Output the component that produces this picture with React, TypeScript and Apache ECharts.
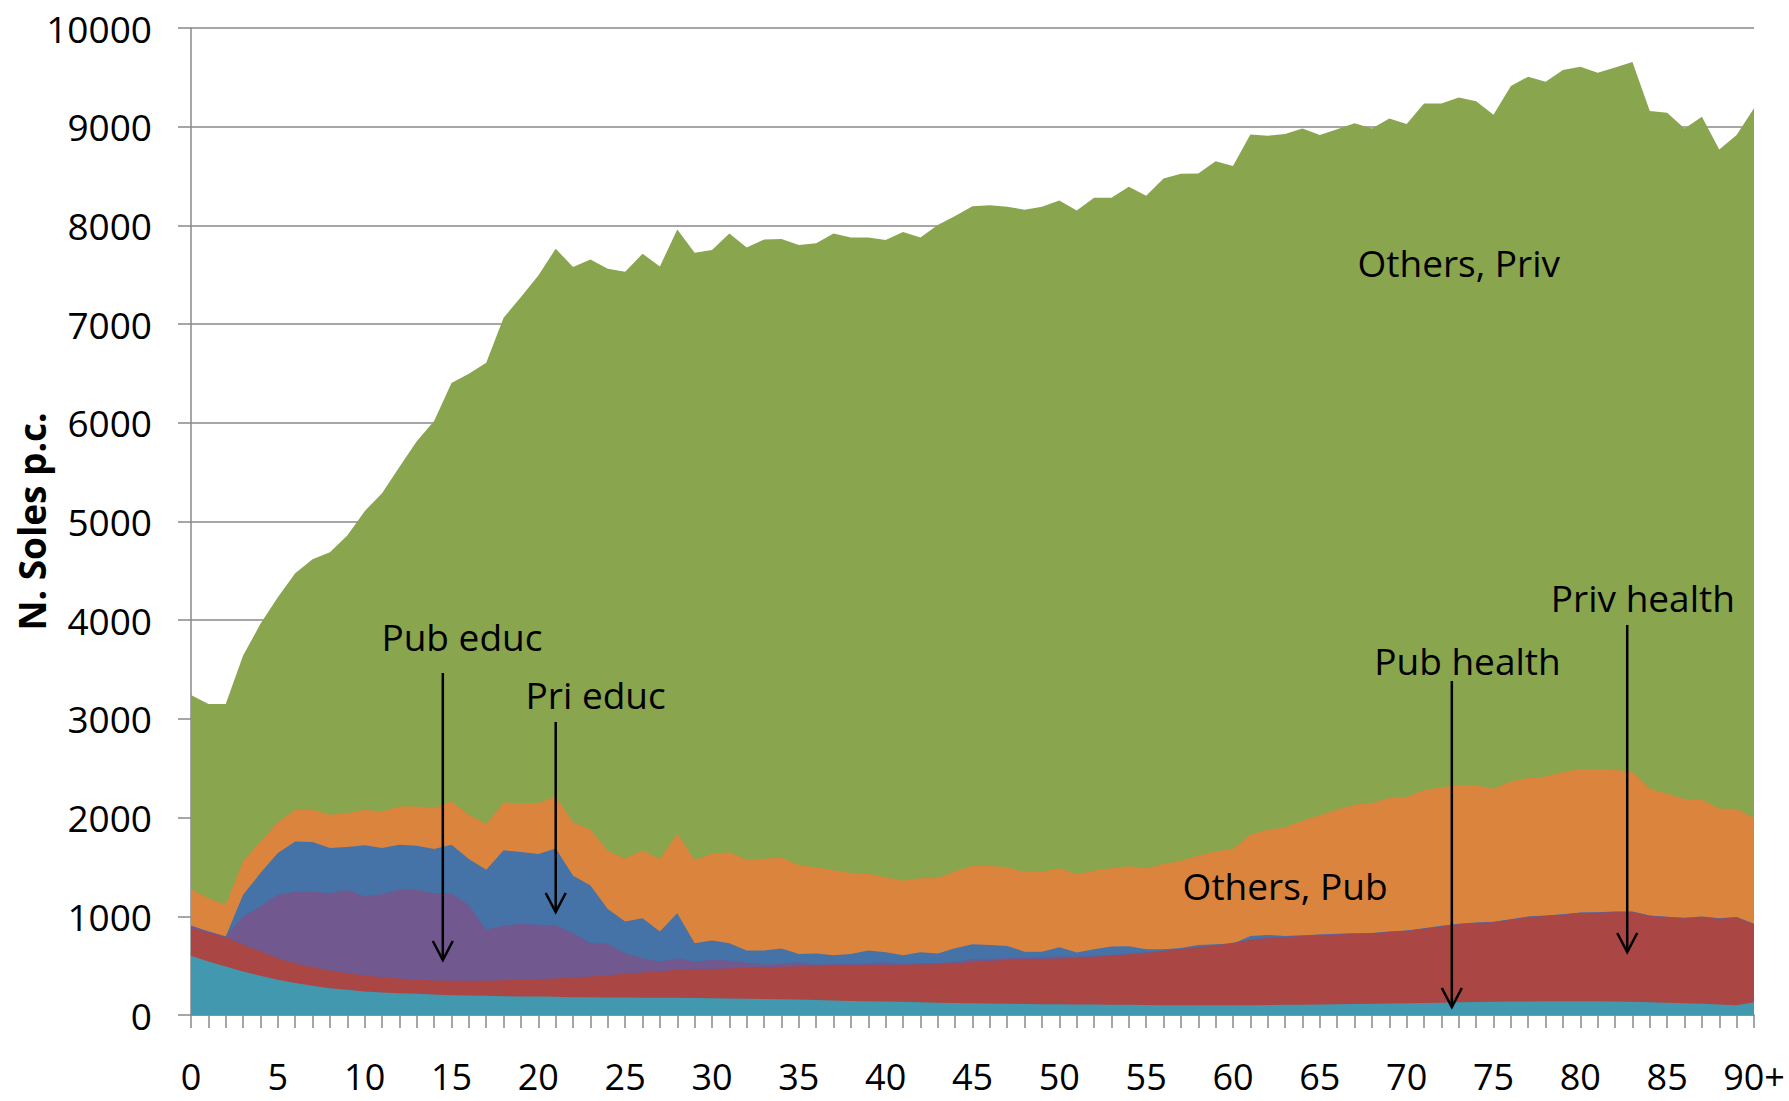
import React, { useEffect, useRef } from "react";
import * as echarts from "echarts";

// Age categories
const ages: string[] = [
  "0","1","2","3","4","5","6","7","8","9",
  "10","11","12","13","14","15","16","17","18","19",
  "20","21","22","23","24","25","26","27","28","29",
  "30","31","32","33","34","35","36","37","38","39",
  "40","41","42","43","44","45","46","47","48","49",
  "50","51","52","53","54","55","56","57","58","59",
  "60","61","62","63","64","65","66","67","68","69",
  "70","71","72","73","74","75","76","77","78","79",
  "80","81","82","83","84","85","86","87","88","89",
  "90+",
];

// Cumulative levels (top edge of each layer), N. Soles p.c.
const pubHealthTop: number[] = [
  600,542,492,441,397,356,323,296,272,255,
  238,228,221,215,208,201,198,194,191,188,
  187,184,181,180,178,177,176,175,174,172,
  170,167,165,162,160,156,152,148,143,140,
  136,133,128,125,122,118,116,114,112,110,
  109,107,106,104,103,102,100,99,98,98,
  99,100,101,103,105,107,110,112,115,117,
  120,122,125,128,132,135,137,138,139,139,
  140,139,137,133,129,124,119,113,106,100,
  130,
];

const privHealthTop: number[] = [
  880,829,786,711,644,576,525,485,451,424,
  400,383,370,358,350,346,346,348,352,356,
  362,370,380,390,404,417,431,444,457,464,
  467,471,478,484,488,491,494,498,501,502,
  504,508,511,515,521,535,548,558,565,568,
  572,578,588,600,612,625,645,665,685,703,
  726,760,777,787,797,807,814,821,824,838,
  848,872,895,916,929,936,963,990,1000,1014,
  1030,1034,1041,1041,1000,988,978,990,972,985,
  916,
];

const pubEducTop: number[] = [
  904,846,795,998,1099,1217,1251,1251,1234,1268,
  1200,1226,1268,1268,1234,1234,1109,863,907,921,
  914,907,829,728,721,626,576,542,576,541,
  558,551,531,510,517,534,510,517,514,524,
  534,516,524,526,537,568,570,575,581,588,
  590,590,598,608,620,634,652,672,692,710,
  732,765,782,792,802,812,819,826,829,843,
  853,877,900,921,934,941,968,995,1005,1019,
  1035,1039,1046,1046,1005,993,983,995,977,990,
  921,
];

const priEducTop: number[] = [
  904,846,795,1218,1438,1641,1759,1752,1692,1702,
  1719,1692,1726,1716,1682,1726,1580,1472,1668,1651,
  1631,1688,1411,1313,1073,948,981,846,1032,727,
  754,727,653,653,673,619,622,605,619,653,
  636,605,636,622,676,716,710,700,642,642,
  686,632,665,693,696,665,666,680,709,716,
  722,801,811,800,808,815,822,829,832,846,
  856,880,903,924,937,944,971,998,1008,1022,
  1038,1042,1049,1049,1008,996,986,998,980,993,
  924,
];

const othersPubTop: number[] = [
  1275,1184,1116,1556,1758,1951,2079,2079,2028,2045,
  2079,2062,2113,2113,2096,2164,2028,1934,2153,2147,
  2147,2214,1951,1877,1664,1583,1667,1580,1833,1573,
  1634,1648,1573,1584,1597,1516,1496,1466,1439,1432,
  1395,1361,1385,1388,1456,1513,1510,1496,1449,1449,
  1486,1425,1462,1487,1506,1486,1529,1563,1614,1658,
  1682,1827,1877,1901,1969,2023,2080,2131,2148,2199,
  2209,2276,2307,2327,2327,2293,2367,2401,2415,2462,
  2493,2493,2486,2459,2290,2243,2189,2182,2091,2087,
  1996,
];

const othersPrivTop: number[] = [
  3243,3152,3152,3642,3963,4233,4476,4618,4689,4858,
  5105,5287,5551,5814,6017,6402,6497,6608,7064,7274,
  7493,7764,7578,7655,7561,7530,7713,7584,7959,7722,
  7750,7919,7777,7858,7861,7801,7818,7919,7878,7878,
  7851,7932,7878,8003,8095,8193,8203,8189,8159,8189,
  8253,8152,8280,8280,8392,8301,8476,8524,8527,8650,
  8601,8922,8909,8926,8983,8916,8973,9034,8983,9084,
  9027,9236,9236,9297,9257,9122,9412,9507,9456,9574,
  9608,9547,9601,9655,9159,9142,8983,9101,8770,8916,
  9186,
];

// Layers drawn back to front (each filled down to zero)
const layerNames = ["Others, Priv", "Others, Pub", "Pri educ", "Pub educ", "Priv health", "Pub health"];
const layerData = [othersPrivTop, othersPubTop, priEducTop, pubEducTop, privHealthTop, pubHealthTop];
const layerColors = ["#89A54E", "#DB843D", "#4572A7", "#71588F", "#AA4643", "#4198AF"];

const yAxisTitle = "N. Soles p.c.";

// Annotation texts at [age index, value]
const noteTexts = ["Pub educ", "Pri educ", "Pub health", "Priv health", "Others, Pub", "Others, Priv"];
const notePos: [number, number][] = [
  [15.6, 3830], [23.3, 3247], [73.5, 3587], [83.6, 4235], [63.0, 1312], [73.0, 7629],
];
// Arrows: [age index, start value, tip value]
const arrowDefs: [number, number, number][] = [
  [14.5, 3465, 557], [21.0, 2969, 1044], [72.6, 3384, 81], [82.7, 3951, 638],
];

const FONT = "'Open Sans', 'Noto Sans', sans-serif";
const GRAY = "#898989";

export default function App() {
  const ref = useRef<HTMLDivElement>(null);
  useEffect(() => {
    if (!ref.current) return;
    const chart = echarts.init(ref.current, undefined, { renderer: "svg" });
    chart.setOption({
      animation: false,
      backgroundColor: "#ffffff",
      grid: { left: 191, right: 35, top: 28, bottom: 86, containLabel: false, outerBoundsMode: "none" },
      xAxis: {
        type: "category",
        data: ages,
        boundaryGap: false,
        axisLine: { show: true, lineStyle: { color: GRAY, width: 1.5 } },
        axisTick: { show: true, interval: 0, length: 13, lineStyle: { color: GRAY, width: 1.5 } },
        axisLabel: { interval: 4, margin: 43, fontSize: 36, lineHeight: 36, color: "#000", fontFamily: FONT },
        splitLine: { show: false },
      },
      yAxis: {
        type: "value",
        min: 0,
        max: 10000,
        interval: 1000,
        axisLine: { show: true, lineStyle: { color: GRAY, width: 1.5 } },
        axisTick: { show: true, length: 13, lineStyle: { color: GRAY, width: 1.5 } },
        axisLabel: {
          margin: 39,
          fontSize: 37,
          color: "#000",
          fontFamily: FONT,
          formatter: (v: number) => String(v),
        },
        splitLine: { show: true, lineStyle: { color: GRAY, width: 1.5 } },
      },
      series: layerNames.map((name, i) => ({
        name,
        type: "line",
        data: layerData[i],
        symbol: "none",
        showSymbol: false,
        lineStyle: { width: 0, color: layerColors[i] },
        itemStyle: { color: layerColors[i] },
        areaStyle: { color: layerColors[i], opacity: 1 },
        z: 2 + i,
      })),
    });

    const last = ages.length - 1;
    // category axis converts only whole indices, so interpolate fractional positions
    const px = (a: number, v: number) => {
      const i0 = Math.min(Math.floor(a), last);
      const i1 = Math.min(i0 + 1, last);
      const f = a - i0;
      const p0 = chart.convertToPixel({ gridIndex: 0 }, [i0, v]) as number[];
      const p1 = chart.convertToPixel({ gridIndex: 0 }, [i1, v]) as number[];
      return [p0[0] + f * (p1[0] - p0[0]), p0[1]];
    };
    const graphics: any[] = [];
    const mid = px(0, 5000);
    graphics.push({
      type: "text",
      x: 31,
      y: mid[1],
      rotation: Math.PI / 2,
      z: 100,
      style: {
        text: yAxisTitle,
        fill: "#000",
        font: `bold 37px ${FONT}`,
        align: "center",
        verticalAlign: "middle",
      },
    });
    noteTexts.forEach((t, i) => {
      const p = px(notePos[i][0], notePos[i][1]);
      graphics.push({
        type: "text",
        x: p[0],
        y: p[1],
        z: 100,
        style: { text: t, fill: "#000", font: `37px ${FONT}`, align: "center", verticalAlign: "middle" },
      });
    });
    arrowDefs.forEach(([a, v0, v1]) => {
      const p0 = px(a, v0);
      const p1 = px(a, v1);
      graphics.push({
        type: "line",
        z: 100,
        shape: { x1: p0[0], y1: p0[1], x2: p1[0], y2: p1[1] },
        style: { stroke: "#000", lineWidth: 2.5 },
      });
      graphics.push({
        type: "polyline",
        z: 100,
        shape: { points: [[p1[0] - 10, p1[1] - 19], [p1[0], p1[1]], [p1[0] + 10, p1[1] - 19]] },
        style: { stroke: "#000", lineWidth: 2.5, fill: "none" },
      });
    });
    chart.setOption({ graphic: graphics });
    return () => chart.dispose();
  }, []);
  return (
    <div
      ref={ref}
      style={{ position: "fixed", left: 0, top: 0, width: 1789, height: 1101, background: "#fff" }}
    />
  );
}
